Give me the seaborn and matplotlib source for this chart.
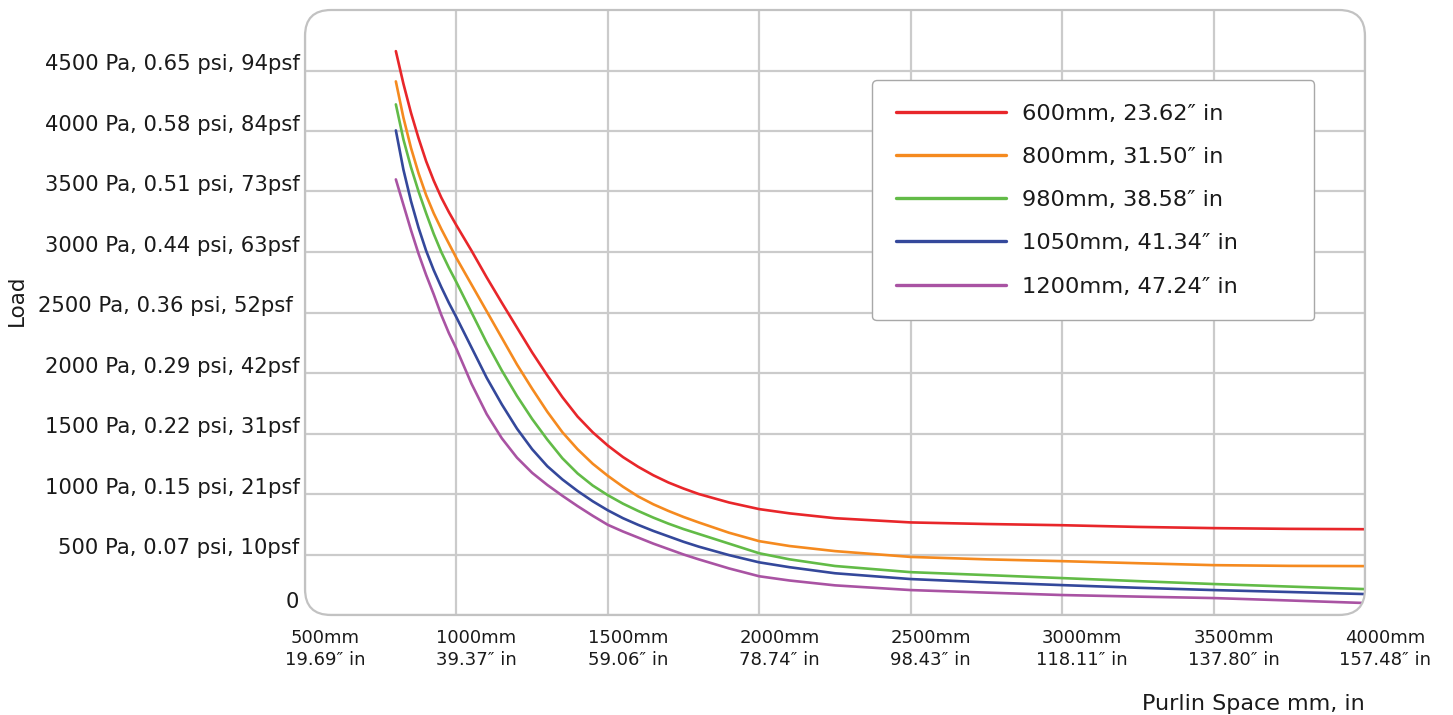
import numpy as np
import pandas as pd
import matplotlib
matplotlib.use("Agg")
import matplotlib.pyplot as plt
import matplotlib.transforms as mtransforms
from matplotlib.patches import FancyBboxPatch
import seaborn as sns

# ---------------- data ----------------
purlin_mm = [800, 825, 850, 875, 900, 925, 950, 975, 1000, 1050, 1100, 1150,
             1200, 1250, 1300, 1350, 1400, 1450, 1500, 1550, 1600, 1650, 1700,
             1750, 1800, 1900, 2000, 2100, 2250, 2500, 2750, 3000, 3250, 3500,
             3750, 4000]

load_600 = [4660, 4390, 4150, 3940, 3750, 3590, 3450, 3330, 3220, 3010, 2790,
            2580, 2375, 2170, 1980, 1800, 1640, 1510, 1400, 1305, 1225, 1155,
            1095, 1045, 1000, 930, 875, 840, 800, 765, 752, 742, 728, 718, 712,
            709]
load_800 = [4410, 4110, 3860, 3650, 3470, 3320, 3190, 3070, 2950, 2730, 2510,
            2290, 2070, 1870, 1680, 1510, 1370, 1250, 1150, 1060, 980, 915,
            860, 810, 765, 680, 610, 570, 528, 480, 460, 445, 428, 412, 406,
            404]
load_980 = [4220, 3930, 3700, 3500, 3320, 3150, 3000, 2870, 2750, 2500, 2250,
            2020, 1810, 1620, 1450, 1295, 1170, 1070, 990, 920, 860, 805, 755,
            710, 670, 590, 510, 460, 405, 354, 330, 305, 280, 256, 235, 214]
load_1050 = [4005, 3680, 3420, 3200, 3010, 2850, 2710, 2580, 2460, 2210, 1960,
             1740, 1540, 1370, 1230, 1120, 1025, 940, 865, 800, 745, 695, 650,
             605, 565, 495, 435, 395, 345, 297, 270, 247, 225, 206, 190, 173]
load_1200 = [3600, 3390, 3180, 2985, 2810, 2650, 2480, 2330, 2200, 1910, 1660,
             1460, 1300, 1175, 1075, 985, 900, 820, 745, 690, 640, 590, 545,
             500, 460, 385, 320, 285, 245, 206, 185, 165, 152, 140, 120, 99]

series_labels = ["600mm, 23.62\u2033 in", "800mm, 31.50\u2033 in",
                 "980mm, 38.58\u2033 in", "1050mm, 41.34\u2033 in",
                 "1200mm, 47.24\u2033 in"]
series_colors = ["#e8262a", "#f58a1f", "#62bb47", "#34489b", "#a953a3"]

x_ticks = [500, 1000, 1500, 2000, 2500, 3000, 3500, 4000]
x_ticklabels = ["500mm\n19.69\u2033 in", "1000mm\n39.37\u2033 in",
                "1500mm\n59.06\u2033 in", "2000mm\n78.74\u2033 in",
                "2500mm\n98.43\u2033 in", "3000mm\n118.11\u2033 in",
                "3500mm\n137.80\u2033 in", "4000mm\n157.48\u2033 in"]
y_ticks = [0, 500, 1000, 1500, 2000, 2500, 3000, 3500, 4000, 4500]
y_ticklabels = ["0", "500 Pa, 0.07 psi, 10psf", "1000 Pa, 0.15 psi, 21psf",
                "1500 Pa, 0.22 psi, 31psf", "2000 Pa, 0.29 psi, 42psf",
                "2500 Pa, 0.36 psi, 52psf ", "3000 Pa, 0.44 psi, 63psf",
                "3500 Pa, 0.51 psi, 73psf", "4000 Pa, 0.58 psi, 84psf",
                "4500 Pa, 0.65 psi, 94psf"]

# ---------------- build long table ----------------
frames = []
for lab, vals in zip(series_labels, [load_600, load_800, load_980, load_1050, load_1200]):
    frames.append(pd.DataFrame({"Purlin": purlin_mm, "Load": vals, "Series": lab}))
df = pd.concat(frames, ignore_index=True)

# ---------------- style ----------------
sns.set_theme(style="white")
plt.rcParams["font.family"] = ["DejaVu Sans"]
TEXT = "#1a1a1a"
GRID = "#cbcbcb"

W, H, DPI = 14.53, 7.15, 100
fig = plt.figure(figsize=(W, H), dpi=DPI)
ax = fig.add_axes([305 / 1453, 100 / 715, 1060 / 1453, 605 / 715])
ax.set_facecolor("white")

sns.lineplot(data=df, x="Purlin", y="Load", hue="Series",
             palette=dict(zip(series_labels, series_colors)),
             linewidth=1.9, ax=ax, legend=True, sort=True, estimator=None)

ax.set_xlim(500, 4000)
ax.set_ylim(0, 5000)
for s in ax.spines.values():
    s.set_visible(False)

# ticks & grid
ax.set_xticks(x_ticks)
ax.set_yticks(y_ticks)
ax.set_xticklabels(x_ticklabels, fontsize=13, color=TEXT, linespacing=1.32)
ax.set_yticklabels(y_ticklabels, fontsize=15.2, color=TEXT)
ax.tick_params(axis="both", length=0)
ax.tick_params(axis="x", pad=10)
ax.tick_params(axis="y", pad=4)
ax.grid(True, color=GRID, linewidth=1.6)
ax.set_axisbelow(True)

# tick label offsets (labels sit slightly off their gridlines in the original)
for t in ax.xaxis.get_major_ticks():
    t.label1.set_transform(t.label1.get_transform() +
                           mtransforms.ScaledTranslation(20 / DPI, 0, fig.dpi_scale_trans))
for t, v in zip(ax.yaxis.get_major_ticks(), y_ticks):
    dy = 15 if v == 0 else 8
    t.label1.set_transform(t.label1.get_transform() +
                           mtransforms.ScaledTranslation(0, dy / DPI, fig.dpi_scale_trans))

# axis labels
ax.set_xlabel("Purlin Space mm, in", fontsize=16, color=TEXT, loc="right")
ax.xaxis.set_label_coords(1.0, -0.131)
ax.set_ylabel("Load", fontsize=15.5, color=TEXT)
ax.yaxis.set_label_coords(-0.262, 0.52)

# rounded frame around plot area
pos = ax.get_position()
frame = FancyBboxPatch((pos.x0 * W, pos.y0 * H), pos.width * W, pos.height * H,
                       boxstyle="round,pad=0,rounding_size=0.26",
                       transform=fig.dpi_scale_trans, facecolor="none",
                       edgecolor="#c2c2c2", linewidth=1.6, zorder=5)
fig.add_artist(frame)
for ln in ax.get_lines():
    ln.set_clip_path(frame)
for gl in ax.xaxis.get_gridlines() + ax.yaxis.get_gridlines():
    gl.set_clip_path(frame)

# legend
leg = ax.legend(loc="upper left", bbox_to_anchor=(0.535, 0.484, 0.417, 0.4),
                mode="expand", borderaxespad=0, fontsize=16.2, handlelength=4.9,
                handletextpad=0.7, labelspacing=1.03, borderpad=1.05,
                frameon=True, fancybox=True, title=None)
leg.get_frame().set_edgecolor("#a8a8a8")
leg.get_frame().set_linewidth(1.0)
leg.get_frame().set_facecolor("white")
leg.get_frame().set_alpha(1)
for txt in leg.get_texts():
    txt.set_color(TEXT)
for h in leg.legend_handles:
    h.set_linewidth(2.4)

fig.savefig("out.png", dpi=DPI, facecolor="white")
